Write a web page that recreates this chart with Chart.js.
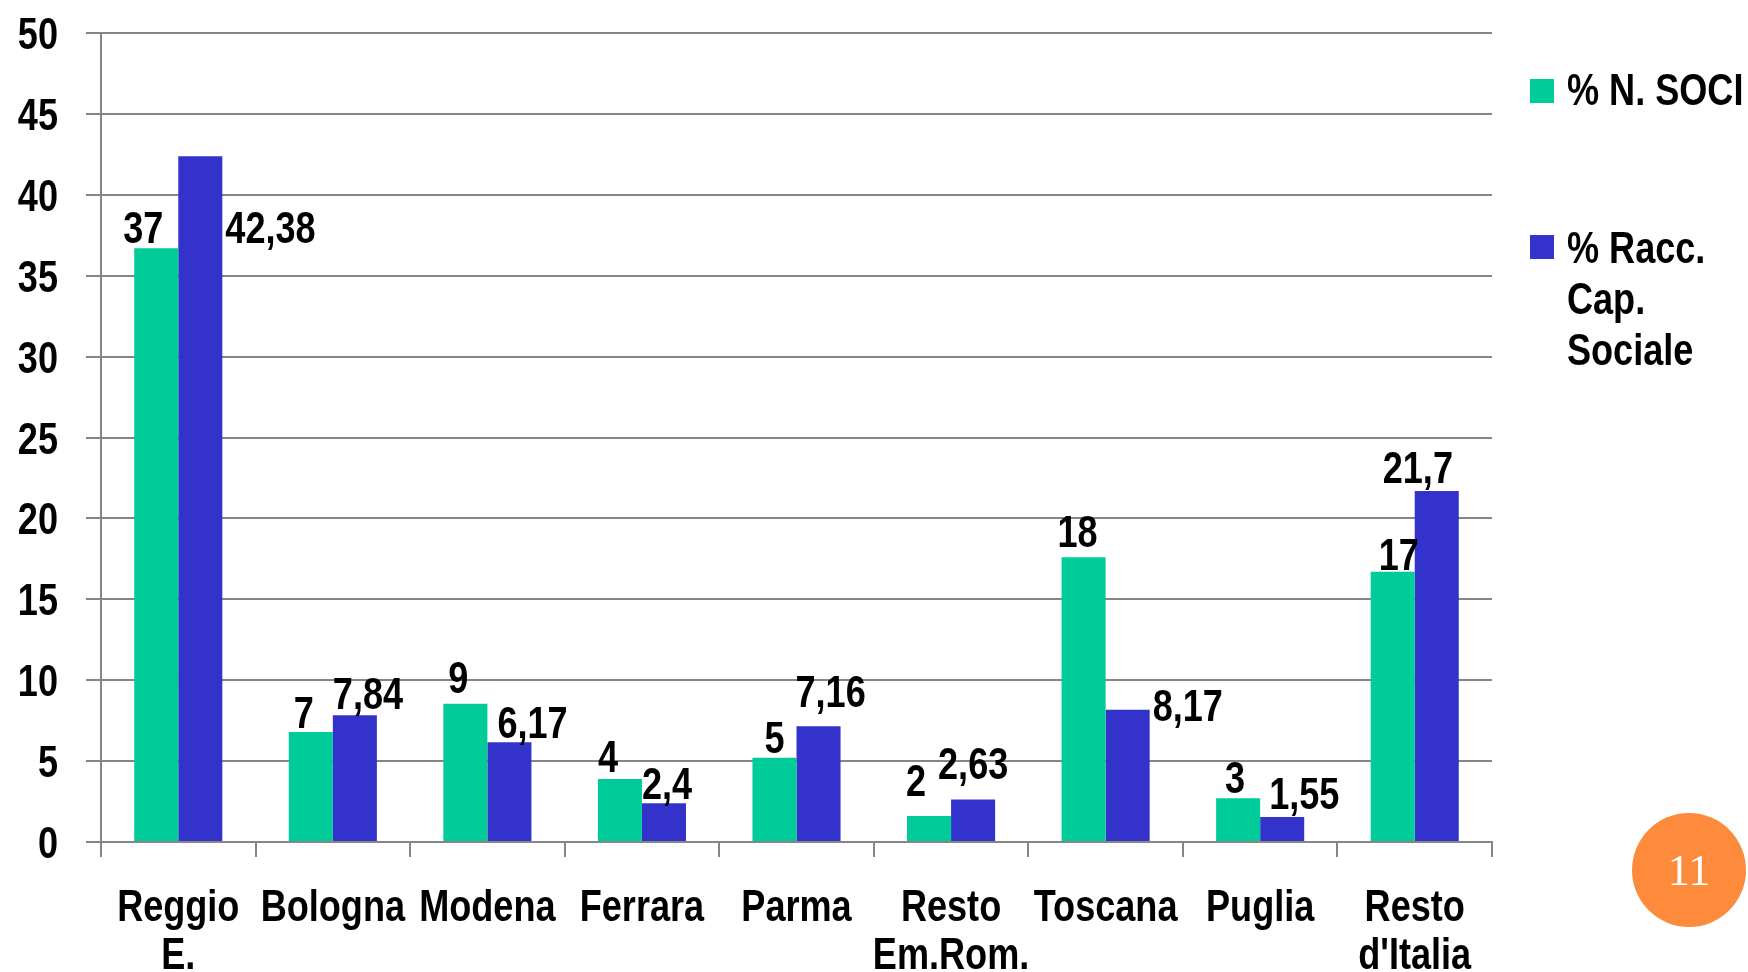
<!DOCTYPE html>
<html>
<head>
<meta charset="utf-8">
<script src="https://cdn.jsdelivr.net/npm/chart.js@4"></script>
<style>
  html, body { margin: 0; padding: 0; background: #fff; }
  canvas { display: block; }
</style>
</head>
<body>
<canvas id="chart" width="1748" height="972"></canvas>
<script>
const categories = [['Reggio', 'E.'], 'Bologna', 'Modena', 'Ferrara', 'Parma', ['Resto', 'Em.Rom.'], 'Toscana', 'Puglia', ['Resto', "d'Italia"]]
const sociValues = [36.7, 6.8, 8.55, 3.9, 5.2, 1.6, 17.6, 2.7, 16.7]
const sociLabels = ['37', '7', '9', '4', '5', '2', '18', '3', '17']
const capitaleValues = [42.38, 7.84, 6.17, 2.4, 7.16, 2.63, 8.17, 1.55, 21.7]
const capitaleLabels = ['42,38', '7,84', '6,17', '2,4', '7,16', '2,63', '8,17', '1,55', '21,7']
const seriesNames = ['% N. SOCI', ['% Racc.', 'Cap.', 'Sociale']]
const yTicks = [0, 5, 10, 15, 20, 25, 30, 35, 40, 45, 50]

// label nudges (px): green centred on bar, blue left-aligned ('r' = right of bar)
const greenDx = [-13, -7, -7, -12, 0, -13, -6, -3, 6]
const greenDy = [-5, -4, -11, -7, -5, -20, -10, -5, -2]
const blueDx = [['r', 3], ['l', 0], ['l', 10], ['l', 0], ['l', -1], ['l', -13], ['r', 3], ['l', 9], ['l', -32]]
const blueDy = [87, -6, -4, -4, -19, -20, 11, -8, -8]

const GREEN = '#00CC99'
const BLUE = '#3333CC'
const GRID = '#868686'
const FONT = "bold 44px 'Liberation Sans', Arial, sans-serif"
const NARROW = 0.82 // no Arial Narrow here, so squeeze Liberation Sans

// draws narrow bold text, baseline at y
const narrowText = (ctx, text, x, y, align) => {
  ctx.save()
  ctx.translate(x, y)
  ctx.scale(NARROW, 1)
  ctx.font = FONT
  ctx.fillStyle = '#000'
  ctx.textAlign = align
  ctx.textBaseline = 'alphabetic'
  ctx.fillText(text, 0, 0)
  ctx.restore()
}

const axisLabels = {
  id: 'axisLabels',
  afterDraw(chart) {
    const ctx = chart.ctx
    const xs = chart.scales.x
    const ys = chart.scales.y
    yTicks.forEach((v) => {
      narrowText(ctx, String(v), ys.right - 43, ys.getPixelForValue(v) + 16, 'right')
    })
    categories.forEach((c, i) => {
      const lines = Array.isArray(c) ? c : [c]
      lines.forEach((line, k) => {
        narrowText(ctx, line, xs.getPixelForTick(i), xs.top + 79 + k * 48, 'center')
      })
    })
  },
}

const valueLabels = {
  id: 'valueLabels',
  afterDatasetsDraw(chart) {
    const ctx = chart.ctx
    chart.getDatasetMeta(0).data.forEach((bar, i) => {
      narrowText(ctx, sociLabels[i], bar.x + greenDx[i], bar.y + greenDy[i], 'center')
    })
    chart.getDatasetMeta(1).data.forEach((bar, i) => {
      const [side, dx] = blueDx[i]
      const x = side === 'r' ? bar.x + bar.width / 2 + dx : bar.x - bar.width / 2 + dx
      narrowText(ctx, capitaleLabels[i], x, bar.y + blueDy[i], 'left')
    })
  },
}

const sideLegend = {
  id: 'sideLegend',
  afterDraw(chart) {
    const ctx = chart.ctx
    ctx.save()
    ctx.fillStyle = GREEN
    ctx.fillRect(1530, 79, 24, 24)
    ctx.fillStyle = BLUE
    ctx.fillRect(1530, 235, 24, 24)
    narrowText(ctx, seriesNames[0], 1567, 105, 'left')
    seriesNames[1].forEach((line, k) => {
      narrowText(ctx, line, 1567, 263 + k * 51, 'left')
    })
    // page number badge
    ctx.fillStyle = '#FD8B3B'
    ctx.beginPath()
    ctx.arc(1689, 870, 57, 0, Math.PI * 2)
    ctx.fill()
    ctx.fillStyle = '#fff'
    ctx.textAlign = 'center'
    ctx.textBaseline = 'alphabetic'
    ctx.font = "44px 'Liberation Serif', 'Times New Roman', serif"
    ctx.fillText('11', 1689, 885)
    ctx.restore()
  },
}

new Chart(document.getElementById('chart').getContext('2d'), {
  type: 'bar',
  data: {
    labels: categories,
    datasets: [
      {
        label: '% N. SOCI',
        data: sociValues,
        backgroundColor: GREEN,
        borderWidth: 0,
        categoryPercentage: 0.57,
        barPercentage: 1,
      },
      {
        label: '% Racc. Cap. Sociale',
        data: capitaleValues,
        backgroundColor: BLUE,
        borderWidth: 0,
        categoryPercentage: 0.57,
        barPercentage: 1,
      },
    ],
  },
  options: {
    responsive: false,
    animation: false,
    devicePixelRatio: 1,
    layout: {
      padding: { left: 0, right: 256, top: 33, bottom: 0 },
    },
    plugins: {
      legend: { display: false },
      tooltip: { enabled: false },
    },
    scales: {
      x: {
        grid: {
          drawOnChartArea: false,
          drawTicks: true,
          tickLength: 15,
          color: GRID,
          lineWidth: 2,
          offset: true,
        },
        border: { color: GRID, width: 2 },
        ticks: { display: false, autoSkip: false },
        afterFit: (scale) => {
          scale.height = 130
        },
      },
      y: {
        min: 0,
        max: 50,
        afterBuildTicks: (scale) => {
          scale.ticks = yTicks.map((v) => ({ value: v }))
        },
        grid: {
          color: GRID,
          lineWidth: 2,
          tickLength: 15,
        },
        border: { color: GRID, width: 2 },
        ticks: { display: false },
        afterFit: (scale) => {
          scale.width = 101
        },
      },
    },
  },
  plugins: [valueLabels, axisLabels, sideLegend],
})
</script>
</body>
</html>
